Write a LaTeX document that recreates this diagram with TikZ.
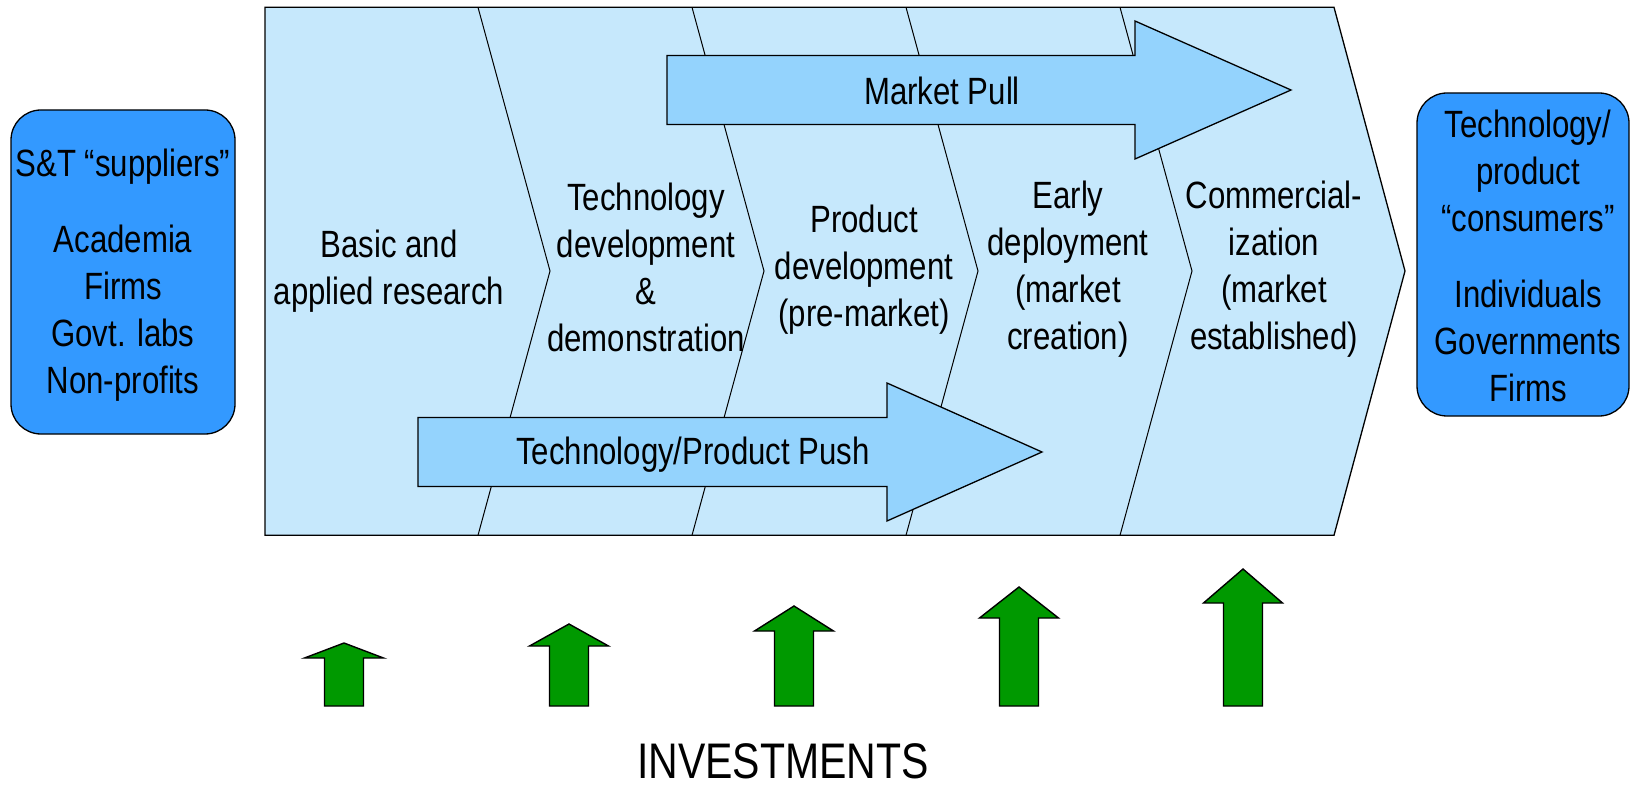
\documentclass[tikz,border=0pt]{standalone}
\usepackage{fontspec}
\setmainfont{Liberation Sans}[FakeStretch=0.82]
\definecolor{panel}{RGB}{198,232,252}
\definecolor{arrowblue}{RGB}{148,211,253}
\definecolor{boxblue}{RGB}{51,153,255}
\definecolor{investgreen}{RGB}{0,153,0}
\begin{document}
\begin{tikzpicture}[x=1pt,y=-1pt,
  txt/.style={font=\fontsize{38}{47}\selectfont, align=center, inner sep=0pt},
  outline/.style={draw=black, line width=1.3pt, line join=miter},
  divider/.style={draw=black, line width=1pt},
  bigarrow/.style={fill=arrowblue, draw=black, line width=1.3pt, line join=miter},
  invest/.style={fill=investgreen, draw=black, line width=1.4pt, line join=miter},
  sidebox/.style={draw=black, line width=1.3pt, fill=boxblue, rounded corners=30pt}]
\useasboundingbox (0,0) rectangle (1630,786);

% chevron panel
\fill[panel] (265,7.3) -- (1334,7.3) -- (1405,271) -- (1334,535.3) -- (265,535.3) -- cycle;
\foreach \x in {478,692,906,1120}
  \draw[divider] (\x,7.3) -- (\x+72,271) -- (\x,535.3);
\draw[outline] (265,7.3) -- (1334,7.3) -- (1405,271) -- (1334,535.3) -- (265,535.3) -- cycle;

% market pull arrow
\draw[bigarrow] (667,55.5) -- (1135,55.5) -- (1135,21) -- (1291,90) -- (1135,159) -- (1135,124.5) -- (667,124.5) -- cycle;
% technology push arrow
\draw[bigarrow] (418,417.5) -- (887,417.5) -- (887,383) -- (1042,452) -- (887,521) -- (887,486.5) -- (418,486.5) -- cycle;

\node[txt] (mp) at (942,91) {Market Pull};
\node[txt] (tp) at (693,455) {Technology/Product Push};

% stage texts
\node[txt] (s1) at (389,271) {Basic and\\applied research};
\node[txt] (s2) at (646,267) {Technology\\development\\\&\\demonstration};
\node[txt] (s3) at (864,270) {Product\\development\\(pre-market)};
\node[txt] (s4) at (1068,269) {Early\\deployment\\(market\\creation)};
\node[txt] (s5) at (1274,269) {Commercial-\\ization\\(market\\established)};

% side boxes
\node[sidebox, minimum width=224pt, minimum height=324pt] (sup) at (123,272) {};
\node[txt] (suptext) at (123,275)
  {S\&T “suppliers”\\[29pt]Academia\\Firms\\Govt. labs\\Non-profits};
\node[sidebox, minimum width=212pt, minimum height=323pt] (con) at (1523,254.5) {};
\node[txt] (context) at (1528,256)
  {Technology/\\product\\“consumers”\\[29pt]Individuals\\Governments\\Firms};

% investment arrows
\foreach \cx/\yb/\yt in {344/658/643, 569/646/624, 794/631/606, 1019/618/587, 1243/603/569}
  \draw[invest] (\cx-19.5,706) -- (\cx-19.5,\yb) -- (\cx-39.5,\yb) -- (\cx,\yt)
    -- (\cx+39.5,\yb) -- (\cx+19.5,\yb) -- (\cx+19.5,706) -- cycle;

\node[font=\fontsize{50}{60}\selectfont, inner sep=0pt] (inv) at (783,761) {INVESTMENTS};
\end{tikzpicture}
\end{document}
